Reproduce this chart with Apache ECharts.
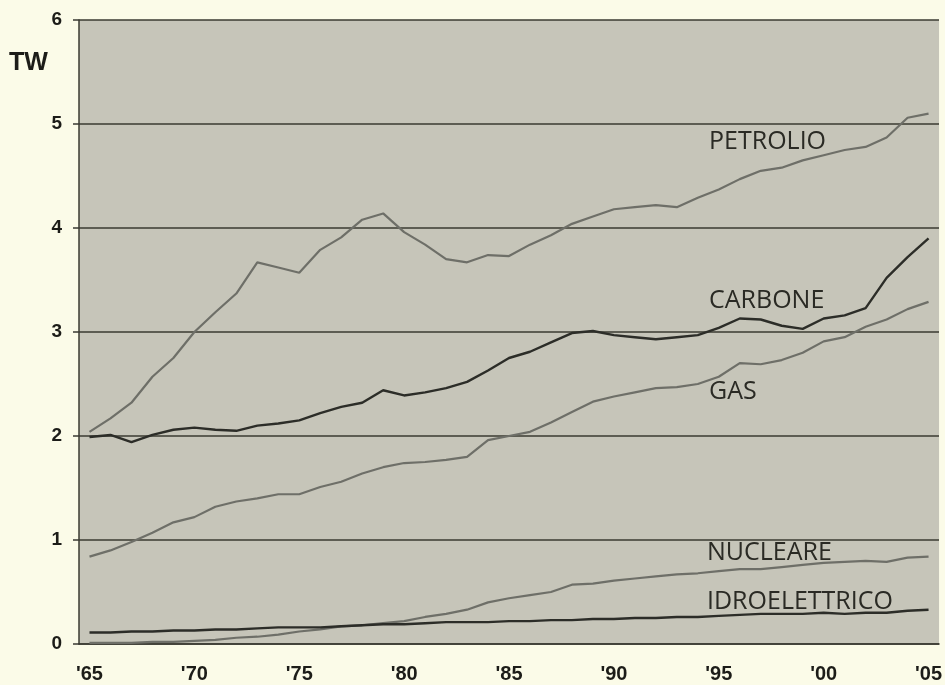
<!DOCTYPE html>
<html>
<head>
<meta charset="utf-8">
<script src="https://cdn.jsdelivr.net/npm/echarts@6/dist/echarts.min.js"></script>
<style>
  html, body { margin: 0; padding: 0; background: #fbfbe8; }
  #chart { width: 945px; height: 685px; }
</style>
</head>
<body>
<div id="chart"></div>
<script>
const years = [];
for (let y = 1965; y <= 2005; y++) years.push(String(y));

const petrolio = [2.04, 2.17, 2.32, 2.57, 2.75, 3.00, 3.19, 3.37, 3.67, 3.62,
    3.57, 3.79, 3.91, 4.08, 4.14, 3.96, 3.84, 3.70, 3.67, 3.74,
    3.73, 3.84, 3.93, 4.04, 4.11, 4.18, 4.20, 4.22, 4.20, 4.29,
    4.37, 4.47, 4.55, 4.58, 4.65, 4.70, 4.75, 4.78, 4.87, 5.06, 5.10];

const carbone = [1.99, 2.01, 1.94, 2.01, 2.06, 2.08, 2.06, 2.05, 2.10, 2.12,
    2.15, 2.22, 2.28, 2.32, 2.44, 2.39, 2.42, 2.46, 2.52, 2.63,
    2.75, 2.81, 2.90, 2.99, 3.01, 2.97, 2.95, 2.93, 2.95, 2.97,
    3.04, 3.13, 3.12, 3.06, 3.03, 3.13, 3.16, 3.23, 3.52, 3.72, 3.90];

const gas = [0.84, 0.90, 0.98, 1.07, 1.17, 1.22, 1.32, 1.37, 1.40, 1.44,
    1.44, 1.51, 1.56, 1.64, 1.70, 1.74, 1.75, 1.77, 1.80, 1.96,
    2.00, 2.04, 2.13, 2.23, 2.33, 2.38, 2.42, 2.46, 2.47, 2.50,
    2.57, 2.70, 2.69, 2.73, 2.80, 2.91, 2.95, 3.05, 3.12, 3.22, 3.29];

const nucleare = [0.01, 0.01, 0.01, 0.02, 0.02, 0.03, 0.04, 0.06, 0.07, 0.09,
    0.12, 0.14, 0.17, 0.18, 0.20, 0.22, 0.26, 0.29, 0.33, 0.40,
    0.44, 0.47, 0.50, 0.57, 0.58, 0.61, 0.63, 0.65, 0.67, 0.68,
    0.70, 0.72, 0.72, 0.74, 0.76, 0.78, 0.79, 0.80, 0.79, 0.83, 0.84];

const idroelettrico = [0.11, 0.11, 0.12, 0.12, 0.13, 0.13, 0.14, 0.14, 0.15, 0.16,
    0.16, 0.16, 0.17, 0.18, 0.19, 0.19, 0.20, 0.21, 0.21, 0.21,
    0.22, 0.22, 0.23, 0.23, 0.24, 0.24, 0.25, 0.25, 0.26, 0.26,
    0.27, 0.28, 0.29, 0.29, 0.29, 0.30, 0.29, 0.30, 0.30, 0.32, 0.33];

const seriesNames = ['PETROLIO', 'CARBONE', 'GAS', 'NUCLEARE', 'IDROELETTRICO'];

const light = '#6e6f68';
const dark = '#2c2d28';
const ink = '#1c1c18';
const axisColor = '#3a3a32';

const chart = echarts.init(document.getElementById('chart'), null, { renderer: 'canvas' });

function line(name, data, color, width) {
    return {
        name,
        type: 'line',
        data,
        showSymbol: false,
        symbol: 'none',
        lineStyle: { color, width },
        z: 3,
    };
}

// series names are written inside the plot, next to each curve
function label(text, x, y) {
    return {
        type: 'text',
        left: x,
        top: y,
        style: {
            text,
            fill: '#2a2a24',
            font: '25px "Open Sans", sans-serif',
        },
        z: 10,
    };
}

chart.setOption({
    animation: false,
    backgroundColor: '#fbfbe8',
    grid: {
        left: 79, right: 2, top: 20, bottom: 41,
        show: true,
        backgroundColor: '#c6c5b9',
        borderWidth: 0,
    },
    xAxis: {
        type: 'category',
        data: years,
        boundaryGap: true,
        axisLine: { lineStyle: { color: axisColor, width: 1.5 } },
        axisTick: { interval: 4, length: 6, lineStyle: { color: axisColor, width: 1.5 } },
        axisLabel: {
            interval: 4,
            margin: 20,
            color: ink,
            fontFamily: '"Liberation Sans", Arial, sans-serif',
            fontWeight: 'bold',
            fontSize: 20,
            formatter: (v) => "'" + v.slice(2),
        },
        splitLine: { show: false },
    },
    yAxis: {
        type: 'value',
        min: 0,
        max: 6,
        interval: 1,
        axisLine: { show: true, lineStyle: { color: axisColor, width: 1.5 } },
        axisTick: { show: true, length: 6, lineStyle: { color: axisColor, width: 1.5 } },
        axisLabel: {
            margin: 17,
            color: ink,
            fontFamily: '"Liberation Sans", Arial, sans-serif',
            fontWeight: 'bold',
            fontSize: 19,
        },
        splitLine: { lineStyle: { color: axisColor, width: 1.5 } },
    },
    graphic: [
        {
            type: 'text',
            left: 9,
            top: 51,
            style: {
                text: 'TW',
                fill: ink,
                font: 'bold 25px "Liberation Sans", Arial, sans-serif',
            },
        },
        label(seriesNames[0], 709, 129),
        label(seriesNames[1], 709, 288),
        label(seriesNames[2], 709, 379),
        label(seriesNames[3], 707, 540),
        label(seriesNames[4], 707, 589),
    ],
    series: [
        line(seriesNames[0], petrolio, light, 2.2),
        line(seriesNames[1], carbone, dark, 2.4),
        line(seriesNames[2], gas, light, 2.2),
        line(seriesNames[3], nucleare, light, 2.2),
        line(seriesNames[4], idroelettrico, dark, 2.4),
    ],
});
</script>
</body>
</html>
